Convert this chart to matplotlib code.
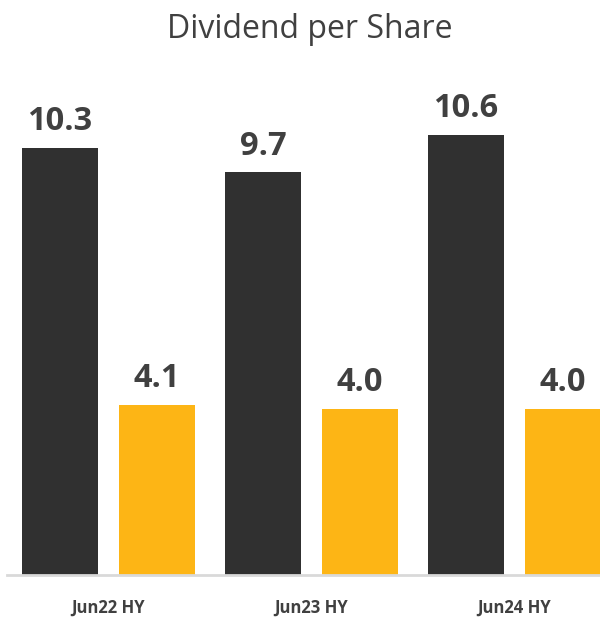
import matplotlib
matplotlib.use('Agg')
import matplotlib.pyplot as plt
import numpy as np

periods = ['Jun22 HY', 'Jun23 HY', 'Jun24 HY']
full_year = [10.3, 9.7, 10.6]
half_year = [4.1, 4.0, 4.0]

plt.rcParams['font.family'] = ['Open Sans', 'DejaVu Sans']

fig = plt.figure(figsize=(6, 6.25), dpi=100)
ax = fig.add_axes([7 / 600, 50 / 625, 609 / 600, 498 / 625])

x = np.arange(len(periods))
w = 0.374
off = 0.239
b1 = ax.bar(x - off, full_year, w, color='#303030')
b2 = ax.bar(x + off, half_year, w, color='#fdb515')

for bars, vals in ((b1, full_year), (b2, half_year)):
    for b, v in zip(bars, vals):
        ax.annotate('%.1f' % v, (b.get_x() + b.get_width() / 2, v),
                    xytext=(0, 7), textcoords='offset points',
                    ha='center', va='bottom', fontsize=23.5,
                    fontweight='bold', color='#404040')

ax.set_xlim(-0.5, 2.5)
ax.set_ylim(0, 12)
ax.set_xticks(x)
ax.set_xticklabels(periods, fontsize=12, fontweight='bold', color='#404040')
ax.tick_params(axis='x', length=0, pad=17)
ax.set_yticks([])
for s in ['top', 'right', 'left']:
    ax.spines[s].set_visible(False)
ax.spines['bottom'].set_color('#d9d9d9')
ax.spines['bottom'].set_linewidth(2)

fig.text(310 / 600, 1 - 30 / 625, 'Dividend per Share', ha='center',
         va='center', fontsize=23, color='#404040')

fig.savefig('out.png', dpi=100)
